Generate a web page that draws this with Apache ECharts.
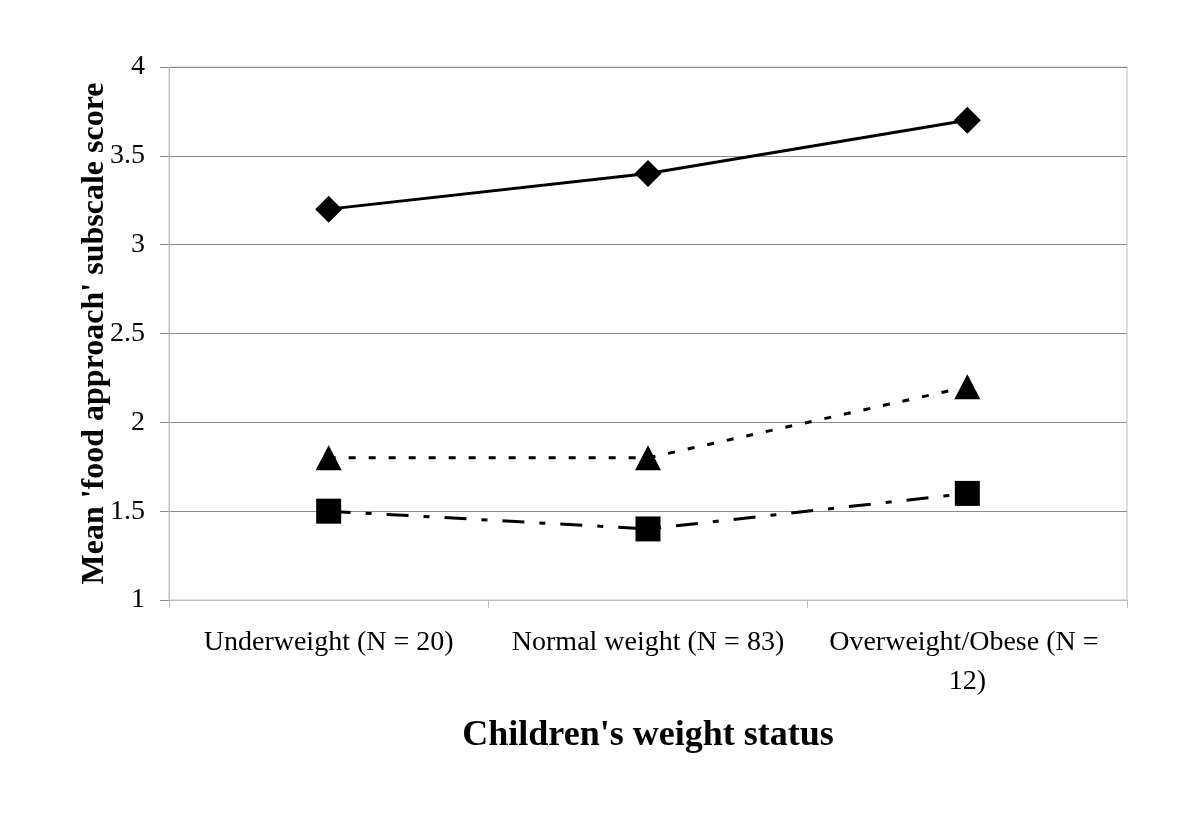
<!DOCTYPE html>
<html>
<head>
<meta charset="utf-8">
<script src="https://cdn.jsdelivr.net/npm/echarts@6/dist/echarts.min.js"></script>
<style>
html,body{margin:0;padding:0;background:#fff;}
#chart{width:1200px;height:827px;}
</style>
</head>
<body>
<div id="chart"></div>
<script>
var categories = ['Underweight (N = 20)', 'Normal weight (N = 83)', 'Overweight/Obese (N = 12)'];
var seriesDiamond = [3.2, 3.4, 3.7];
var seriesTriangle = [1.8, 1.8, 2.2];
var seriesSquare = [1.5, 1.4, 1.6];
var yTicks = [1, 1.5, 2, 2.5, 3, 3.5, 4];

var FONT = '"Liberation Serif", "Times New Roman", serif';
var chart = echarts.init(document.getElementById('chart'), null, {renderer: 'canvas'});
chart.setOption({
  backgroundColor: '#fff',
  animation: false,
  grid: {left: 169, right: 73, top: 67, bottom: 227, show: true, borderColor: '#c0c0c0', borderWidth: 1, backgroundColor: 'transparent'},
  xAxis: {
    type: 'category',
    data: categories,
    boundaryGap: true,
    axisLine: {lineStyle: {color: '#c0c0c0', width: 1}},
    axisTick: {show: true, length: 8, lineStyle: {color: '#c0c0c0'}},
    axisLabel: {color: '#000', fontFamily: FONT, fontSize: 28, margin: 23, lineHeight: 39, width: 292, overflow: 'break', interval: 0},
    name: "Children's weight status",
    nameLocation: 'middle',
    nameGap: 118,
    nameMoveOverlap: false,
    nameTextStyle: {color: '#000', fontFamily: FONT, fontSize: 36, fontWeight: 'bold'}
  },
  yAxis: {
    type: 'value',
    min: yTicks[0],
    max: yTicks[yTicks.length - 1],
    interval: 0.5,
    axisLine: {show: true, lineStyle: {color: '#c0c0c0', width: 1}},
    axisTick: {show: true, length: 9, lineStyle: {color: '#8c8c8c'}},
    splitLine: {show: true, lineStyle: {color: '#8c8c8c', width: 1}},
    axisLabel: {color: '#000', fontFamily: FONT, fontSize: 28, margin: 24},
    name: "Mean 'food approach' subscale score",
    nameLocation: 'middle',
    nameGap: 58,
    nameMoveOverlap: false,
    nameTextStyle: {color: '#000', fontFamily: FONT, fontSize: 32, fontWeight: 'bold'}
  },
  series: [
    {
      type: 'line', data: seriesDiamond, symbol: 'diamond', symbolSize: [27, 27],
      lineStyle: {color: '#000', width: 3, type: 'solid'},
      itemStyle: {color: '#000'}
    },
    {
      type: 'line', data: seriesTriangle, symbol: 'triangle', symbolSize: [26, 25],
      lineStyle: {color: '#000', width: 3, type: [7, 13]},
      itemStyle: {color: '#000'}
    },
    {
      type: 'line', data: seriesSquare, symbol: 'rect', symbolSize: [25, 25],
      lineStyle: {color: '#000', width: 3, type: [22, 15, 6, 15]},
      itemStyle: {color: '#000'}
    }
  ]
});
</script>
</body>
</html>
